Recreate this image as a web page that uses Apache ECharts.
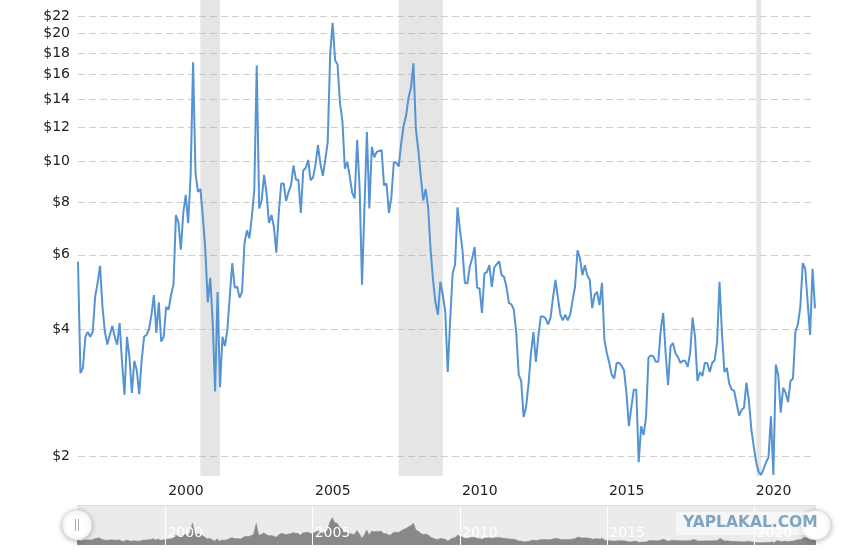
<!DOCTYPE html>
<html><head><meta charset="utf-8">
<script src="https://cdn.jsdelivr.net/npm/echarts@6/dist/echarts.min.js"></script>
<style>html,body{margin:0;padding:0;background:#fff}#c{width:846px;height:554px}</style>
</head><body><div id="c"></div>
<script>
// Monthly prices, starting January 1997
const startYear = 1997;
const prices = [
5.78,3.15,3.24,3.84,3.94,3.84,3.94,4.77,5.15,5.65,4.52,3.94,
3.68,3.88,4.07,3.84,3.68,4.14,3.33,2.80,3.84,3.44,2.83,3.37,
3.20,2.81,3.38,3.84,3.88,4.00,4.33,4.82,3.92,4.63,3.74,3.84,
4.52,4.45,4.82,5.10,7.45,7.17,6.17,7.53,8.31,7.13,9.27,17.1,
9.36,8.45,8.58,7.37,6.17,4.63,5.29,4.17,2.85,4.90,2.92,3.84,
3.65,3.98,4.80,5.73,5.02,5.04,4.75,4.90,6.39,6.85,6.57,7.37,
8.53,16.8,7.72,8.06,9.27,8.40,7.13,7.45,6.99,6.07,7.53,8.84,
8.84,8.04,8.45,8.75,9.75,9.03,9.03,7.53,9.49,9.62,10.05,8.99,
9.14,9.80,10.9,9.84,9.22,10.05,11.1,18.0,21.2,17.3,16.9,13.7,
12.4,9.58,9.94,9.18,8.40,8.15,11.2,8.67,5.10,7.80,11.7,7.72,
10.8,10.2,10.5,10.55,10.6,8.75,8.84,7.53,8.23,9.94,9.89,9.71,
11.0,12.1,12.8,14.1,14.9,17.0,11.9,10.6,9.18,8.06,8.58,7.77,
6.17,5.23,4.63,4.33,5.18,4.82,4.40,3.17,4.20,5.42,5.70,7.77,
6.85,6.17,5.15,5.13,5.62,5.89,6.26,5.02,4.99,4.37,5.42,5.46,
5.67,5.04,5.59,5.70,5.79,5.37,5.32,5.04,4.61,4.58,4.45,3.92,
3.12,3.02,2.48,2.62,2.97,3.51,3.94,3.35,3.84,4.29,4.29,4.24,
4.11,4.26,4.75,5.23,4.75,4.33,4.20,4.33,4.20,4.33,4.68,5.04,
6.15,5.89,5.37,5.67,5.37,5.23,4.49,4.82,4.90,4.56,5.15,3.77,
3.51,3.33,3.12,3.06,3.33,3.33,3.28,3.20,2.83,2.36,2.62,2.88,
2.88,1.94,2.36,2.25,2.48,3.43,3.47,3.45,3.35,3.35,3.98,4.37,
3.51,2.95,3.65,3.71,3.51,3.44,3.33,3.37,3.37,3.26,3.51,4.26,
3.84,3.02,3.17,3.10,3.33,3.33,3.17,3.33,3.38,3.71,5.18,3.92,
3.17,3.24,2.97,2.88,2.86,2.67,2.50,2.58,2.61,2.99,2.71,2.32,
2.11,1.94,1.84,1.81,1.87,1.94,1.99,2.49,1.81,3.30,3.12,2.54,
2.91,2.83,2.69,3.02,3.06,3.94,4.11,4.52,5.73,5.56,4.63,3.88,
5.56,4.48
];
const priceTicks = [2,4,6,8,10,12,14,16,18,20,22];
const yearTicks = [2000,2005,2010,2015,2020];
const recessionStart = ['2001-03','2007-12','2020-02'];
const recessionEnd   = ['2001-11','2009-06','2020-04'];

const toYear = s => { const p = s.split('-').map(Number); return p[0] + (p[1]-1)/12; };
const points = prices.map((v,i) => [startYear + i/12, v]);
const xMin = startYear, xMax = startYear + (prices.length-1)/12;
const FONT = 'DejaVu Sans';

const chart = echarts.init(document.getElementById('c'), null, {renderer:'canvas'});
chart.setOption({
  animation:false,
  backgroundColor:'#fff',
  grid:[
    {left:78, right:31, top:0, height:476},
    {left:77, right:30, top:505, height:40, show:true, backgroundColor:'#ebebeb', borderColor:'#dcdcdc', borderWidth:0}
  ],
  xAxis:[
    {type:'value', gridIndex:0, min:xMin, max:xMax,
     axisLine:{show:false}, splitLine:{show:false},
     axisTick:{show:false, customValues:yearTicks},
     axisLabel:{customValues:yearTicks, align:'left', padding:[0,0,0,2], margin:8,
       color:'#222', fontFamily:FONT, fontSize:14, formatter:v=>String(v)}},
    {type:'value', gridIndex:1, min:xMin, max:xMax, z:20,
     axisLine:{show:false},
     axisTick:{show:false, customValues:yearTicks},
     splitLine:{show:true, lineStyle:{color:'#ffffff', width:1}},
     axisLabel:{customValues:yearTicks, inside:true, align:'left', padding:[0,0,0,2], margin:5,
       color:'#ffffff', fontFamily:FONT, fontSize:14, formatter:v=>String(v)}}
  ],
  yAxis:[
    {type:'log', gridIndex:0, min:1.8, max:24, logBase:10,
     axisLine:{show:false},
     axisTick:{show:false, customValues:priceTicks},
     splitLine:{show:true, lineStyle:{color:'#cfcfcf', type:[7,4], width:1}},
     axisLabel:{customValues:priceTicks, margin:8, color:'#222', fontFamily:FONT, fontSize:14,
       formatter:v=>'$'+Math.round(v)}},
    {type:'value', gridIndex:1, min:0, max:31, show:false, splitLine:{show:false}}
  ],
  series:[
    {type:'line', xAxisIndex:0, yAxisIndex:0, data:points, showSymbol:false, symbol:'none',
     lineStyle:{color:'#5593d2', width:2}, itemStyle:{color:'#5593d2'}, z:3,
     markArea:{silent:true, itemStyle:{color:'rgba(170,170,170,0.3)'},
       data: recessionStart.map((s,k)=>[{xAxis:toYear(s)},{xAxis:toYear(recessionEnd[k])}])}},
    {type:'line', xAxisIndex:1, yAxisIndex:1, data:points, showSymbol:false, symbol:'none',
     lineStyle:{color:'#888', width:0.5}, areaStyle:{color:'#888', opacity:1}, z:1}
  ],
  graphic:[
    {type:'line', shape:{x1:77,y1:505.5,x2:816,y2:505.5}, z:50, style:{stroke:'#dedede', lineWidth:1}},
    {type:'circle', shape:{cx:77, cy:525, r:15}, z:100,
     style:{fill:'#fff', stroke:'#dddddd', lineWidth:1, shadowBlur:5, shadowColor:'rgba(0,0,0,0.25)', shadowOffsetY:1}},
    {type:'line', shape:{x1:75.5,y1:519,x2:75.5,y2:531}, z:101, style:{stroke:'#aaa', lineWidth:1}},
    {type:'line', shape:{x1:78.5,y1:519,x2:78.5,y2:531}, z:101, style:{stroke:'#aaa', lineWidth:1}},
    {type:'circle', shape:{cx:816, cy:525, r:15}, z:100,
     style:{fill:'#fff', stroke:'#dddddd', lineWidth:1, shadowBlur:5, shadowColor:'rgba(0,0,0,0.25)', shadowOffsetY:1}},
    {type:'rect', shape:{x:676, y:512, width:140, height:23}, z:102,
     style:{fill:'rgba(255,255,255,0.55)'}},
    {type:'text', x:683, y:523, z:103,
     style:{text:'YAPLAKAL.COM', fill:'#7ea6c2', font:'bold 15.5px "DejaVu Sans"', textVerticalAlign:'middle'}}
  ]
});
</script></body></html>
